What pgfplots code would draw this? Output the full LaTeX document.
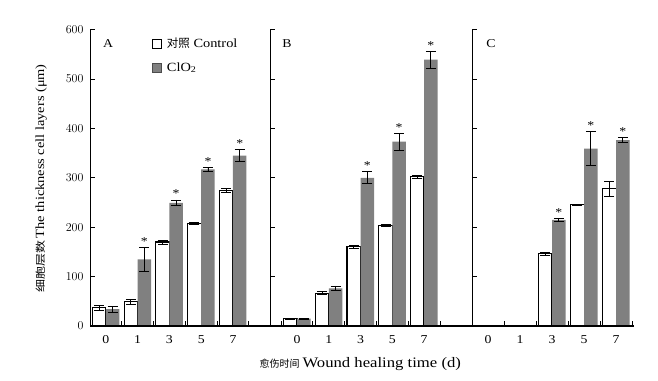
\documentclass[border=0pt]{standalone}
\usepackage{pgfplots}
\pgfplotsset{compat=1.18}
\usepackage{fontspec}
\setmainfont{Liberation Serif}[FakeStretch=1.15]
\newfontfamily\cjk{Noto Sans CJK SC}
\newfontfamily\cjkw{Noto Sans CJK SC}[FakeStretch=1.3]
\definecolor{barg}{RGB}{128,128,128}
\newcommand\fs[1]{\fontsize{#1}{#1}\selectfont}
\pgfplotsset{
  panel/.style={
    scale only axis, height=296.5pt,
    ymin=0, ymax=600, ytick={0,100,...,600},
    axis x line*=bottom, axis y line*=left, axis line style={-},
    x axis line style={line width=2.6pt},
    y axis line style={line width=0.8pt},
    tick align=inside, major tick length=5pt,
    tick style={line width=0.8pt, black},
    xtick={-0.5,0.5,1.5,2.5,3.5,4.5}, x tick label as interval,
    xticklabels={0,1,3,5,7},
    xticklabel style={yshift=-6pt},
    yticklabel style={xshift=-3pt},
    ticklabel style={font=\fs{12}},
    axis on top, clip=false,
  },
  eb/.style={error bars/y dir=both, error bars/y explicit,
    error bars/error bar style={line width=0.9pt, black},
    error bars/error mark options={rotate=90, mark size=5pt, line width=0.9pt, black}},
  ctrl/.style={ybar, bar width=0.425, bar shift=0pt, fill=white, draw=black, line width=1.1pt, eb},
  trt/.style={ybar, bar width=0.425, bar shift=0pt, fill=barg, draw=none, eb},
  stars/.style={draw=none, mark=none, forget plot, nodes near coords={*},
    nodes near coords style={anchor=base, inner sep=0pt, yshift=2pt, font=\fs{12}}},
}
\begin{document}
\begin{tikzpicture}
\path[use as bounding box] (0pt,0pt) rectangle (658pt,380pt);
% Panel A
\begin{axis}[panel, at={(90pt,54pt)}, anchor=south west, width=180pt,
  xmin=-0.5, xmax=5.165,
  ylabel={{\cjkw\fs{10}细胞层数} \fs{12.5}The thickness cell layers (μm)},
  ylabel style={at={(axis description cs:-0.272,0.497)}, anchor=center},
  legend style={draw=none, fill=none, at={(axis description cs:0.344,0.978)}, anchor=north west,
    font=\fs{12.5}, row sep=9pt, inner sep=0pt, cells={anchor=west}},
]
\addplot[ctrl, legend image code/.code={\draw[fill=white, draw=black, line width=0.8pt] (0pt,-4.5pt) rectangle (9pt,4.5pt);}]
  coordinates {(-0.2125,37) +- (0,5) (0.7875,49) +- (0,5) (1.7875,170) +- (0,4) (2.7875,208) +- (0,2) (3.7875,275) +- (0,4)};
\addlegendentry{\hspace{3pt}{\cjk\fs{11.5}对照} Control}
\addplot[trt, legend image code/.code={\draw[fill=barg, draw=black!70, line width=0.8pt] (0pt,-4.5pt) rectangle (9pt,4.5pt);}]
  coordinates {(0.2125,34) +- (0,6) (1.2125,135) +- (0,24) (2.2125,249) +- (0,6) (3.2125,317) +- (0,4) (4.2125,345) +- (0,12)};
\addlegendentry{\hspace{3pt}ClO\textsubscript{2}}
\addplot[stars] coordinates {(1.2125,159) (2.2125,255) (3.2125,321) (4.2125,357)};
\node[font=\fs{12}] at (rel axis cs:0.1,0.951) {A};
\end{axis}
% Panel B
\begin{axis}[panel, at={(270pt,54pt)}, anchor=south west, width=202pt,
  xmin=-0.85, xmax=5.51, yticklabels={},
  xticklabels={,0,1,3,5,7},
  xtick={-0.85,-0.5,0.5,1.5,2.5,3.5,4.5},
  xlabel={{\cjk\fs{10}愈伤时间} \fs{14.5}Wound healing time (d)},
  xlabel style={at={(axis description cs:0.447,-0.128)}, anchor=center},
]
\addplot[ctrl] coordinates {(-0.2125,15) +- (0,1) (0.7875,66) +- (0,3) (1.7875,160) +- (0,3) (2.7875,204) +- (0,2) (3.7875,302) +- (0,3)};
\addplot[trt] coordinates {(0.2125,15) +- (0,1) (1.2125,76) +- (0,5) (2.2125,300) +- (0,12) (3.2125,373) +- (0,17) (4.2125,539) +- (0,17)};
\addplot[stars] coordinates {(2.2125,312) (3.2125,390) (4.2125,556)};
\node[font=\fs{12}] at (rel axis cs:0.084,0.951) {B};
\end{axis}
% Panel C
\begin{axis}[panel, at={(472pt,54pt)}, anchor=south west, width=162pt,
  xmin=-0.5, xmax=4.56, yticklabels={},
]
\addplot[ctrl] coordinates {(1.7875,146) +- (0,3) (2.7875,245) +- (0,1) (3.7875,278) +- (0,15)};
\addplot[trt] coordinates {(2.2125,215) +- (0,3) (3.2125,359) +- (0,34) (4.2125,376) +- (0,5)};
\addplot[stars] coordinates {(2.2125,218) (3.2125,394) (4.2125,381)};
\node[font=\fs{12}] at (rel axis cs:0.117,0.951) {C};
\end{axis}
\end{tikzpicture}
\end{document}
